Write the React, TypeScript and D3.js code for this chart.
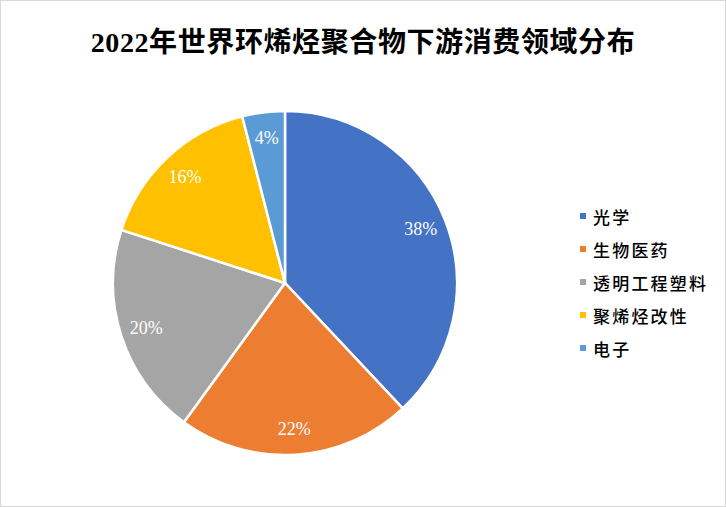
import React from "react";
import * as d3 from "d3";

const title = "2022年世界环烯烃聚合物下游消费领域分布";
const categories = ["光学", "生物医药", "透明工程塑料", "聚烯烃改性", "电子"];
const values = [38, 22, 20, 16, 4];
const colors = ["#4472C4", "#ED7D31", "#A5A5A5", "#FFC000", "#5B9BD5"];

const W = 726;
const H = 507;
const cx = 285;
const cy = 283;
const R = 172;

export default function App() {
  const pie = d3.pie<number>().sort(null).value((d) => d)(values);
  const arc = d3.arc<d3.PieArcDatum<number>>().innerRadius(0).outerRadius(R);
  const labelArc = d3.arc<d3.PieArcDatum<number>>().innerRadius(146).outerRadius(146);
  const legendY = d3.scalePoint<string>().domain(categories).range([216, 348]);
  const total = d3.sum(values);

  return (
    <svg
      width={W}
      height={H}
      viewBox={`0 0 ${W} ${H}`}
      style={{ position: "absolute", left: 0, top: 0, background: "#fff" }}
    >
      <rect x={0.5} y={0.5} width={W - 1} height={H - 1} fill="#fff" stroke="#D9D9D9" strokeWidth={1} />
      <text
        x={363}
        y={52}
        textAnchor="middle"
        fontSize={28}
        letterSpacing={0.6}
        fontWeight="bold"
        fill="#000"
        fontFamily="'Liberation Serif', 'Noto Sans CJK SC', serif"
      >
        {title}
      </text>
      <g transform={`translate(${cx},${cy})`}>
        {pie.map((d, i) => (
          <path key={i} d={arc(d) || ""} fill={colors[i]} stroke="#fff" strokeWidth={2.5} />
        ))}
        {pie.map((d, i) => {
          const [x, y] = labelArc.centroid(d);
          return (
            <text
              key={"l" + i}
              x={x}
              y={y}
              textAnchor="middle"
              dominantBaseline="central"
              fontSize={18}
              fill="#fff"
              fontFamily="'Liberation Serif', serif"
            >
              {`${Math.round((d.data / total) * 100)}%`}
            </text>
          );
        })}
      </g>
      <g>
        {categories.map((c, i) => (
          <g key={c} transform={`translate(580,${legendY(c)})`}>
            <rect x={0} y={-3} width={6} height={6} fill={colors[i]} />
            <text
              x={13}
              y={0}
              dominantBaseline="central"
              fontSize={17}
              letterSpacing={2.2}
              fontWeight={500}
              fill="#000"
              fontFamily="'Noto Sans CJK SC', sans-serif"
            >
              {c}
            </text>
          </g>
        ))}
      </g>
    </svg>
  );
}
